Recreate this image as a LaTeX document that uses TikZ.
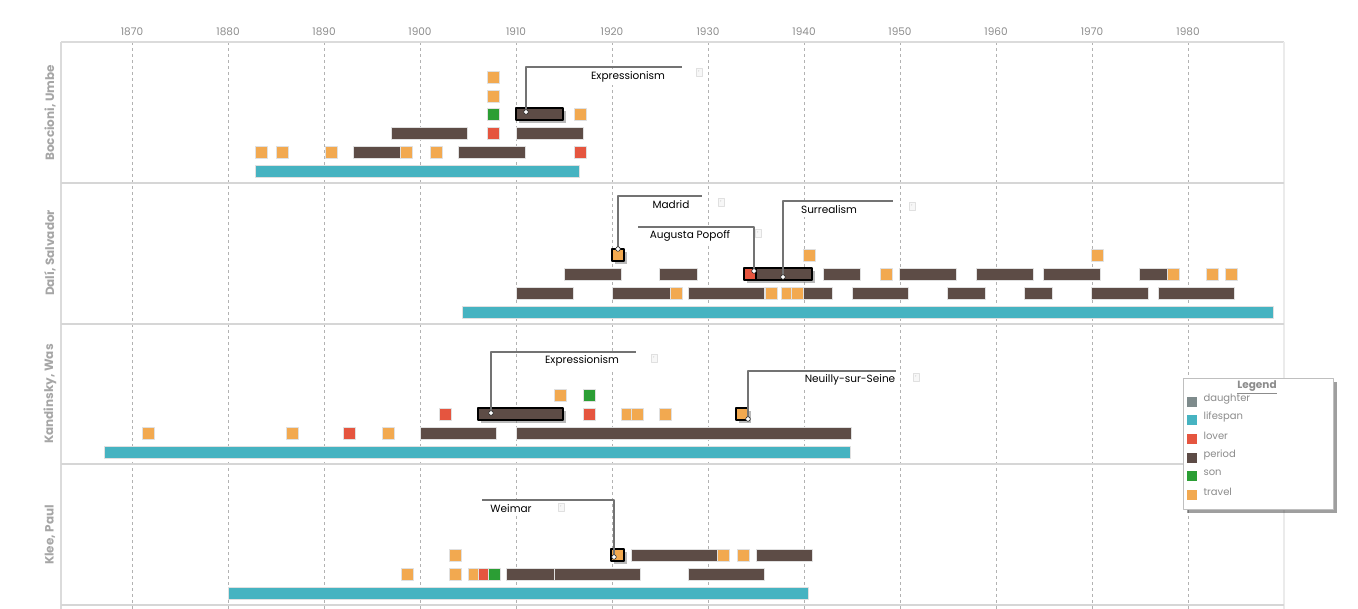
\documentclass[tikz,border=0pt]{standalone}
\usepackage{fontspec}
\setmainfont{Poppins}
\usetikzlibrary{shadows}
\newcommand{\tlspan}[4]{\draw[bx, fill=#1] (#2,#4-6) rectangle (#3,#4+6);}
\newcommand{\tlev}[3]{\draw[bx, fill=#1] (#2,#3-6) rectangle (#2+12,#3+6);}
\newcommand{\tlhi}[4]{\draw[hi, fill=#1] (#2,#4-6) rectangle (#3,#4+6);}
\begin{document}
\begin{tikzpicture}[x=1pt, y=-1pt, line join=round,
  bx/.style={draw=black!12, line width=0.5pt},
  hi/.style={draw=black, line width=1.8pt, drop shadow={shadow xshift=3pt, shadow yshift=-3pt, fill=black!55}},
  grid/.style={draw=black!30, line width=0.6pt, dash pattern=on 3pt off 3pt},
  frame/.style={draw=black!14, line width=1.6pt},
  yearlbl/.style={text=black!45, font=\fontsize{10.5}{12}\selectfont},
  rowlbl/.style={text=black!35, font=\fontsize{12}{13}\selectfont\bfseries, rotate=90},
  callout/.style={draw=black!55, line width=1.6pt},
  calltext/.style={fill=white, inner sep=3pt, font=\fontsize{10.5}{12}\selectfont},
  tipicon/.style={draw=black!12, fill=black!3, inner sep=0pt, minimum width=6pt, minimum height=8pt, text=black!35, font=\fontsize{4}{4}\selectfont},
  dot/.style={fill=white, draw=black!85, line width=0.6pt},
  legendbox/.style={draw=black!25, fill=white, line width=0.8pt, drop shadow={shadow xshift=4pt, shadow yshift=-4pt, fill=black!75}},
  legtext/.style={anchor=west, text=black!45, font=\fontsize{10}{11}\selectfont}]
  \definecolor{clife}{HTML}{46B3C1}
  \definecolor{cper}{HTML}{5D4C46}
  \definecolor{ctrav}{HTML}{F2A950}
  \definecolor{clover}{HTML}{E5553F}
  \definecolor{cson}{HTML}{2B9E34}
  \definecolor{cdau}{HTML}{7E8B8C}
  \useasboundingbox (0,0) rectangle (1358,609);

  \foreach \yr in {1870,1880,...,1980} {
    \draw[grid] ({132+(\yr-1870)*9.6},42) -- ({132+(\yr-1870)*9.6},609);
    \node[yearlbl] (yr\yr) at ({132+(\yr-1870)*9.6},32) {\yr};
  }
  \draw[frame] (61,42) -- (1284,42);
  \draw[frame] (61,42) -- (61,609);
  \draw[frame, draw=black!8] (1284,42) -- (1284,609);
  \foreach \ys in {183,324,464,605}
    \draw[draw=black!16, line width=1.2pt] (61,\ys) -- (1284,\ys);

  \node[rowlbl] (lbBoccioni) at (50,113) {Boccioni, Umbe};
  \node[rowlbl] (lbDali) at (50,253) {Dalí, Salvador};
  \node[rowlbl] (lbKandinsky) at (50,394) {Kandinsky, Was};
  \node[rowlbl] (lbKlee) at (50,535) {Klee, Paul};

  % Boccioni
  \tlspan{clife}{255}{579}{171}
  \tlev{ctrav}{255}{152} \tlev{ctrav}{276}{152} \tlev{ctrav}{325}{152}
  \tlspan{cper}{353}{400}{152} \tlev{ctrav}{400}{152} \tlev{ctrav}{430}{152}
  \tlspan{cper}{458}{525}{152} \tlev{clover}{574}{152}
  \tlspan{cper}{391}{467}{133} \tlev{clover}{487}{133} \tlspan{cper}{516}{583}{133}
  \tlev{cson}{487}{114} \tlhi{cper}{516}{563}{114} \tlev{ctrav}{574}{114}
  \tlev{ctrav}{487}{96} \tlev{ctrav}{487}{77}

  % Dali
  \tlspan{clife}{462}{1273}{312}
  \tlspan{cper}{516}{573}{293} \tlspan{cper}{612}{670}{293} \tlev{ctrav}{670}{293}
  \tlspan{cper}{688}{764}{293} \tlev{ctrav}{765}{293} \tlev{ctrav}{781}{293}
  \tlev{ctrav}{791}{293} \tlspan{cper}{803}{832}{293} \tlspan{cper}{852}{908}{293}
  \tlspan{cper}{947}{985}{293} \tlspan{cper}{1024}{1052}{293}
  \tlspan{cper}{1091}{1148}{293} \tlspan{cper}{1158}{1234}{293}
  \tlspan{cper}{564}{621}{274} \tlspan{cper}{659}{697}{274}
  \tlhi{clover}{744}{756}{274} \tlhi{cper}{756}{812}{274}
  \tlspan{cper}{823}{860}{274} \tlev{ctrav}{880}{274} \tlspan{cper}{899}{956}{274}
  \tlspan{cper}{976}{1033}{274} \tlspan{cper}{1043}{1100}{274}
  \tlspan{cper}{1139}{1167}{274} \tlev{ctrav}{1167}{274}
  \tlev{ctrav}{1206}{274} \tlev{ctrav}{1225}{274}
  \tlhi{ctrav}{612}{624}{255} \tlev{ctrav}{803}{255} \tlev{ctrav}{1091}{255}

  % Kandinsky
  \tlspan{clife}{104}{850}{452}
  \tlev{ctrav}{142}{433} \tlev{ctrav}{286}{433} \tlev{clover}{343}{433}
  \tlev{ctrav}{382}{433} \tlspan{cper}{420}{496}{433} \tlspan{cper}{516}{851}{433}
  \tlev{clover}{439}{414} \tlhi{cper}{478}{563}{414} \tlev{clover}{583}{414}
  \tlev{ctrav}{621}{414} \tlev{ctrav}{631}{414} \tlev{ctrav}{659}{414}
  \tlhi{ctrav}{736}{748}{414}
  \tlev{ctrav}{554}{395} \tlev{cson}{583}{395}

  % Klee
  \tlspan{clife}{228}{808}{593}
  \tlev{ctrav}{401}{574} \tlev{ctrav}{449}{574} \tlev{ctrav}{468}{574}
  \tlev{clover}{478}{574} \tlev{cson}{488}{574}
  \tlspan{cper}{506}{554}{574} \tlspan{cper}{554}{640}{574} \tlspan{cper}{688}{764}{574}
  \tlev{ctrav}{449}{555} \tlhi{ctrav}{611}{624}{555} \tlspan{cper}{631}{717}{555}
  \tlev{ctrav}{717}{555} \tlev{ctrav}{737}{555} \tlspan{cper}{756}{812}{555}

  % callouts
  \coordinate (ptExprB) at (526,112);
  \coordinate (enExprB) at (682,67);
  \node[calltext] (txExprB) at (628,77) {Expressionism};
  \node[tipicon] (icExprB) at (699,72) {›};
  \draw[callout] (ptExprB) |- (enExprB);
  \fill[dot] (ptExprB) circle (2.3);

  \coordinate (ptMadrid) at (618,249);
  \coordinate (enMadrid) at (702,196);
  \node[calltext] (txMadrid) at (671,205) {Madrid};
  \node[tipicon] (icMadrid) at (721,202) {›};
  \draw[callout] (ptMadrid) |- (enMadrid);
  \fill[dot] (ptMadrid) circle (2.3);

  \coordinate (ptPopoff) at (754,271);
  \coordinate (enPopoff) at (638,227);
  \node[calltext] (txPopoff) at (690,236) {Augusta Popoff};
  \node[tipicon] (icPopoff) at (758,233) {›};
  \draw[callout] (ptPopoff) |- (enPopoff);
  \fill[dot] (ptPopoff) circle (2.3);

  \coordinate (ptSurreal) at (783,277);
  \coordinate (enSurreal) at (893,201);
  \node[calltext] (txSurreal) at (829,210) {Surrealism};
  \node[tipicon] (icSurreal) at (912,206) {›};
  \draw[callout] (ptSurreal) |- (enSurreal);
  \fill[dot] (ptSurreal) circle (2.3);

  \coordinate (ptExprK) at (491,413);
  \coordinate (enExprK) at (636,352);
  \node[calltext] (txExprK) at (582,361) {Expressionism};
  \node[tipicon] (icExprK) at (654,358) {›};
  \draw[callout] (ptExprK) |- (enExprK);
  \fill[dot] (ptExprK) circle (2.3);

  \coordinate (ptNeuilly) at (748,419);
  \coordinate (enNeuilly) at (896,371);
  \node[calltext] (txNeuilly) at (850,380) {Neuilly-sur-Seine};
  \node[tipicon] (icNeuilly) at (916,377) {›};
  \draw[callout] (ptNeuilly) |- (enNeuilly);
  \fill[dot] (ptNeuilly) circle (2.3);

  \coordinate (ptWeimar) at (614,557);
  \coordinate (enWeimar) at (482,500);
  \node[calltext] (txWeimar) at (511,509) {Weimar};
  \node[tipicon] (icWeimar) at (561,507) {›};
  \draw[callout] (ptWeimar) |- (enWeimar);
  \fill[dot] (ptWeimar) circle (2.3);

  % legend
  \node[legendbox, anchor=north west, minimum width=150pt, minimum height=131pt] (legend) at (1183,378) {};
  \node[text=black!45, font=\fontsize{10.5}{12}\selectfont\bfseries] (legtitle) at (1257,387) {\underline{Legend}};
  \foreach \c/\t/\yy in {cdau/daughter/402, clife/lifespan/420, clover/lover/439, cper/period/458, cson/son/476, ctrav/travel/495} {
    \fill[\c] (1187,\yy-5) rectangle (1197,\yy+5);
    \node[legtext] (leg\t) at (1200,\yy-3) {\t};
  }
\end{tikzpicture}
\end{document}
